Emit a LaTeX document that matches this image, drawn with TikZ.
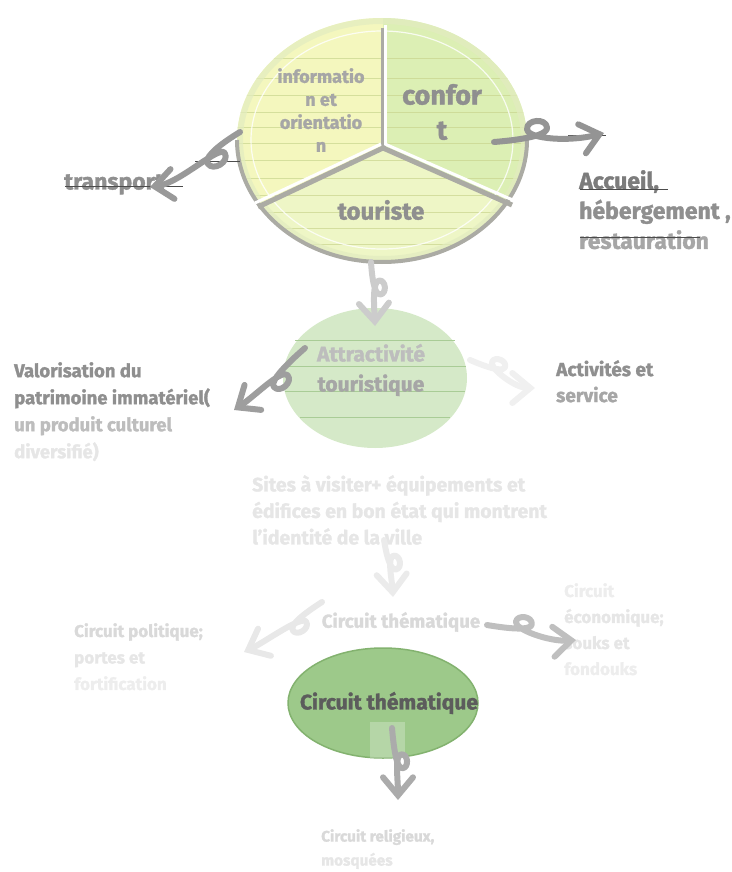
\documentclass[tikz,border=0pt]{standalone}
\usepackage{fontspec}
\setmainfont{Fira Sans}[BoldFeatures={FakeBold=1.5}]
\usetikzlibrary{arrows.meta,calc,shapes.geometric}
\definecolor{segA}{HTML}{F4F7BE}
\definecolor{segB}{HTML}{DCEFB4}
\definecolor{segC}{HTML}{EEF6C6}
\definecolor{rimc}{HTML}{E2ECC0}
\definecolor{shadecol}{HTML}{ABABA4}
\definecolor{olive}{HTML}{C9D58E}
\definecolor{attrfill}{HTML}{D5E9C8}
\definecolor{attrline}{HTML}{A9CC96}
\definecolor{ellfill}{HTML}{9DC98A}
\definecolor{elldraw}{HTML}{83B26F}
\definecolor{tA}{HTML}{7C7C7C}
\definecolor{tB}{HTML}{8F8F8F}
\definecolor{tC}{HTML}{A6A6A6}
\definecolor{tD}{HTML}{BDBDBD}
\definecolor{tE}{HTML}{D9D9D9}
\definecolor{tF}{HTML}{E6E6E6}
\definecolor{tG}{HTML}{EDEDED}
\definecolor{tDark}{HTML}{5C5C5C}
% start, end, loop distance, loop radius, side, colour, last control point
\newcommand\curly[7]{%
  \pgfmathsetmacro\cua{#3}\pgfmathsetmacro\cub{#3+#4}\pgfmathsetmacro\cuc{#3-#4}%
  \pgfmathsetmacro\cuh{0.5*#4}\pgfmathsetmacro\cut{2*#4}\pgfmathsetmacro\cud{#3+3*#4}%
  \draw[cur,#6] (#1) .. controls ($(#1)!\cua pt!(#2)$) and ($(#1)!\cub pt!(#2)!\cuh pt!#5:(#2)$) ..
    ($(#1)!\cub pt!(#2)!#4pt!#5:(#2)$) .. controls ($(#1)!\cub pt!(#2)!\cut pt!#5:(#2)$) and ($(#1)!\cuc pt!(#2)!\cut pt!#5:(#2)$) ..
    ($(#1)!\cuc pt!(#2)!#4pt!#5:(#2)$) .. controls ($(#1)!\cuc pt!(#2)!0.1pt!#5:(#2)$) and #7 .. (#2);}
\begin{document}
\begin{tikzpicture}[x=1pt,y=-1pt,
  lbl/.style={font=\bfseries, align=left, anchor=north west, inner sep=0pt},
  ctr/.style={font=\bfseries, align=center, inner sep=0pt},
  cur/.style={line width=6pt, line cap=round, line join=round,
     -{Straight Barb[length=18pt,width=30pt,line cap=round]}},
  tline/.style={line width=0.6pt, draw=black!70},
]
\useasboundingbox (0,0) rectangle (731,872);

% ---------- top cycle ----------
\coordinate (cc) at (383,148);
\begin{scope}
  \clip (382,140) ellipse [x radius=145pt, y radius=122pt];
  \fill[segA] (cc) -- (383,0) -- (220,0) -- (220,225) -- cycle;
  \fill[segB] (cc) -- (383,0) -- (545,0) -- (545,218) -- cycle;
  \fill[segC] (cc) -- (220,225) -- (220,290) -- (545,290) -- (545,218) -- cycle;
  \foreach \yy in {58,78,95,112,127,143,160,178,195,212,228,244}
    \draw[olive, line width=0.6pt, opacity=0.7] (220,\yy) -- (545,\yy);
  \draw[rimc, line width=12pt, opacity=0.7] (382,140) ellipse [x radius=145pt, y radius=122pt];
  \draw[white, line width=1.2pt, opacity=0.8] (382,140) ellipse [x radius=131pt, y radius=109pt];
\end{scope}
\draw[shadecol, line width=4pt] (382,140) ++(-145pt,0pt) arc [start angle=180, end angle=360, x radius=145pt, y radius=122pt];
\draw[shadecol, line width=5pt] (cc) -- (383,28);
\draw[shadecol, line width=5pt] (cc) -- (258,207);
\draw[shadecol, line width=5pt] (cc) -- (512,205);
\draw[white, line width=3pt] ($(cc)+(2,-3)$) -- (385,25);
\draw[white, line width=3pt] ($(cc)+(-2,-4)$) -- (255,203);
\draw[white, line width=3pt] ($(cc)+(2,-4)$) -- (515,201);

\node[ctr, text=tC, font=\bfseries\fontsize{18}{23}\selectfont] (info) at (321,110) {informatio\\n et\\orientatio\\n};
\node[ctr, text=tB, font=\bfseries\fontsize{27}{35}\selectfont] (confort) at (442,112) {confor\\t};
\node[ctr, text=tB, font=\bfseries\fontsize{24}{26}\selectfont] (touriste) at (381,210) {touriste};

% ---------- labels ----------
\node[lbl, text=tB, font=\bfseries\fontsize{23}{29}\selectfont] (transport) at (64,174) {transport};
\node[lbl, font=\bfseries\fontsize{23}{30}\selectfont] (accueil) at (579,170)
  {\textcolor{tA}{Accueil,}\\\textcolor{tB}{hébergement ,}\\\textcolor{tC}{restauration}};

\node[ellipse, fill=attrfill, minimum width=184pt, minimum height=140pt, inner sep=0pt] (attr) at (375,378) {};
\foreach \yy/\hw in {340/80,366/91,391/90,417/75}
  \draw[attrline, line width=0.7pt] (375-\hw,\yy) -- (375+\hw,\yy);
\node[ctr, font=\bfseries\fontsize{21}{30}\selectfont] (attrtext) at (371,370)
  {\textcolor{tD}{Attractivité}\\\textcolor{tC}{touristique}};

\node[lbl, font=\bfseries\fontsize{18.5}{27}\selectfont] (valor) at (14,362)
  {\textcolor{tB}{Valorisation du}\\\textcolor{tB}{patrimoine immatériel(}\\\textcolor{tD}{un produit culturel}\\\textcolor{tF}{diversifié)}};
\node[lbl, font=\bfseries\fontsize{19}{26}\selectfont] (activ) at (556,360)
  {\textcolor{tB}{Activités et}\\\textcolor{tC}{service}};

\node[lbl, text=tF, font=\bfseries\fontsize{19.4}{26.5}\selectfont] (sites) at (252,475)
  {Sites à visiter+ équipements et\\édifices en bon état qui montrent\\l'identité de la ville};

\node[ctr, text=tE, font=\bfseries\fontsize{18.7}{26}\selectfont] (circA) at (401,622) {Circuit thématique};
\node[lbl, font=\bfseries\fontsize{17}{26.5}\selectfont] (polit) at (74,623)
  {\textcolor{tE}{Circuit politique;}\\\textcolor{tF}{portes et}\\\textcolor{tG}{fortification}};
\node[lbl, font=\bfseries\fontsize{17}{26}\selectfont] (econ) at (564,583)
  {\textcolor{tG}{Circuit}\\\textcolor{tF}{économique;}\\\textcolor{tF}{souks et}\\\textcolor{tG}{fondouks}};

\node[ellipse, fill=ellfill, draw=elldraw, line width=1.5pt, minimum width=190pt, minimum height=110pt, inner sep=0pt] (ell) at (383,703) {};
\node[ctr, text=tDark, font=\bfseries\fontsize{21}{26}\selectfont] (elltext) at (389,703) {Circuit thématique};
\fill[white, opacity=0.25] (370,722) rectangle (405,758);

\node[lbl, font=\bfseries\fontsize{15.3}{24}\selectfont] (relig) at (321,829)
  {\textcolor{tE}{Circuit religieux,}\\\textcolor{tF}{mosquées}};

% ---------- thin table lines ----------
\draw[tline] (65,186) -- (183,186);
\draw[tline] (195,161) -- (240,161);
\draw[tline] (580,189) -- (668,189);
\draw[tline] (580,237) -- (700,237);
\draw[tline] (568,135) -- (606,135);

% ---------- curly connectors ----------
\coordinate (s1) at (240,132); \coordinate (e1) at (150,187);
\curly{s1}{e1}{34}{10}{90}{draw=black!40}{(180,183)}
\coordinate (s2) at (494,142); \coordinate (e2) at (604,133);
\curly{s2}{e2}{44}{10}{90}{draw=black!42}{(570,142)}
\coordinate (s3) at (371,262); \coordinate (e3) at (375,326);
\curly{s3}{e3}{26}{7}{90}{draw=black!20}{(374,305)}
\coordinate (s4) at (305,348); \coordinate (e4) at (234,410);
\curly{s4}{e4}{40}{9}{90}{draw=black!38}{(255,396)}
\coordinate (s5) at (470,360); \coordinate (e5) at (535,388);
\curly{s5}{e5}{28}{7}{90}{draw=black!6}{(515,388)}
\coordinate (s6) at (384,540); \coordinate (e6) at (393,597);
\curly{s6}{e6}{24}{7}{90}{draw=black!8}{(392,580)}
\coordinate (s7) at (322,602); \coordinate (e7) at (244,652);
\curly{s7}{e7}{32}{8}{90}{draw=black!9}{(265,642)}
\coordinate (s8) at (487,625); \coordinate (e8) at (576,640);
\curly{s8}{e8}{36}{8}{90}{draw=black!25}{(550,642)}
\coordinate (s9) at (392,728); \coordinate (e9) at (398,800);
\curly{s9}{e9}{34}{7}{90}{draw=black!33}{(398,780)}
\end{tikzpicture}
\end{document}
